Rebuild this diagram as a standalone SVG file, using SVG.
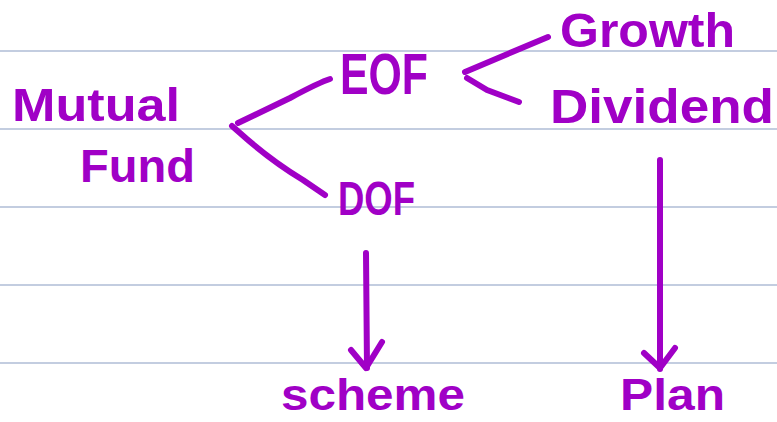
<svg xmlns="http://www.w3.org/2000/svg" width="777" height="422" viewBox="0 0 777 422">
  <style>
    .rule { stroke: #c3cde0; stroke-width: 2; }
    .ink { fill: none; stroke: #a000c6; stroke-width: 6; stroke-linecap: round; stroke-linejoin: round; }
    .label { fill: #a000c6; font-family: "Liberation Sans", "DejaVu Sans", sans-serif; font-weight: bold; }
  </style>
  <rect width="777" height="422" fill="#ffffff"/>

  <!-- notebook ruling -->
  <g id="ruling">
    <line class="rule" x1="0" y1="51" x2="777" y2="51"/>
    <line class="rule" x1="0" y1="129" x2="777" y2="129"/>
    <line class="rule" x1="0" y1="207" x2="777" y2="207"/>
    <line class="rule" x1="0" y1="285" x2="777" y2="285"/>
    <line class="rule" x1="0" y1="363" x2="777" y2="363"/>
  </g>

  <g id="mutual-fund">
    <text class="label" x="12" y="121" font-size="46" textLength="168" lengthAdjust="spacingAndGlyphs">Mutual</text>
    <text class="label" x="80" y="182" font-size="46" textLength="115" lengthAdjust="spacingAndGlyphs">Fund</text>
  </g>
  <g id="eof">
    <text class="label" x="340" y="94" font-size="58" textLength="88" lengthAdjust="spacingAndGlyphs">EOF</text>
  </g>
  <g id="dof">
    <text class="label" x="338" y="215" font-size="48" textLength="77" lengthAdjust="spacingAndGlyphs">DOF</text>
  </g>
  <g id="growth">
    <text class="label" x="560" y="47" font-size="48" textLength="175" lengthAdjust="spacingAndGlyphs">Growth</text>
  </g>
  <g id="dividend">
    <text class="label" x="550" y="123" font-size="48" textLength="224" lengthAdjust="spacingAndGlyphs">Dividend</text>
  </g>
  <g id="scheme">
    <text class="label" x="281" y="410" font-size="44" textLength="184" lengthAdjust="spacingAndGlyphs">scheme</text>
  </g>
  <g id="plan">
    <text class="label" x="620" y="410" font-size="44" textLength="105" lengthAdjust="spacingAndGlyphs">Plan</text>
  </g>

  <g id="connectors">
    <!-- Mutual Fund branches -->
    <path class="ink" d="M330 79 Q320 82 290 98 L238 123"/>
    <path class="ink" d="M232 126 L240 133 Q270 160 303 180 L325 195"/>
    <!-- EOF branches -->
    <path class="ink" d="M548 37 L465 72"/>
    <path class="ink" d="M467 78 L487 90 L519 102"/>
    <!-- DOF to scheme -->
    <path class="ink" d="M366 253 L367 368"/>
    <path class="ink" d="M351 350 L366 368 L382 342"/>
    <!-- Dividend to Plan -->
    <path class="ink" d="M660 160 L660 369"/>
    <path class="ink" d="M644 353 L660 368 L675 348"/>
  </g>
</svg>
